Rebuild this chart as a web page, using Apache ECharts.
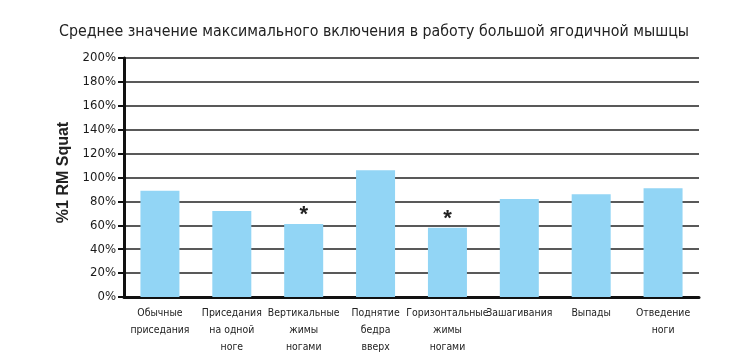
<!DOCTYPE html>
<html>
<head>
<meta charset="utf-8">
<script src="https://cdn.jsdelivr.net/npm/echarts@6/dist/echarts.min.js"></script>
<style>html,body{margin:0;padding:0;background:#fff}#c{width:748px;height:364px}</style>
</head>
<body>
<div id="c"></div>
<script>
const titleText = 'Среднее значение максимального включения в работу большой ягодичной мышцы';
const yAxisName = '%1 RM Squat';
const categories = [
  'Обычные\nприседания',
  'Приседания\nна одной\nноге',
  'Вертикальные\nжимы\nногами',
  'Поднятие\nбедра\nвверх',
  'Горизонтальные\nжимы\nногами',
  'Зашагивания',
  'Выпады',
  'Отведение\nноги'
];
const values = [89, 72, 61, 106, 58, 82, 86, 91];
const significant = [false, false, true, false, true, false, false, false];
const yTicks = [0, 20, 40, 60, 80, 100, 120, 140, 160, 180, 200];

const FONT = '"DejaVu Sans Condensed", "Liberation Sans Narrow", sans-serif';
const chart = echarts.init(document.getElementById('c'));
chart.setOption({
  animation: false,
  title: {
    text: titleText, left: 'center', top: 19,
    textStyle: {fontFamily: FONT, fontSize: 15.8, fontWeight: 'normal', color: '#222'}
  },
  grid: {left: 124, right: 49, top: 58, bottom: 67},
  xAxis: {
    type: 'category', data: categories,
    axisLine: {lineStyle: {color: '#111', width: 3}},
    axisTick: {show: false},
    axisLabel: {fontFamily: FONT, fontSize: 10.4, color: '#222', lineHeight: 17, margin: 8, interval: 0}
  },
  yAxis: {
    type: 'value', min: yTicks[0], max: yTicks[yTicks.length - 1], interval: 20,
    name: yAxisName, nameLocation: 'middle', nameGap: 46, nameRotate: 90,
    nameTextStyle: {fontFamily: 'Liberation Sans, Arial, sans-serif', fontSize: 16, fontWeight: 'bold', color: '#222', padding: [0, 0, 0, 10]},
    axisLine: {show: true, lineStyle: {color: '#111', width: 3}},
    axisTick: {show: true, length: 6, lineStyle: {color: '#111', width: 2}},
    axisLabel: {fontFamily: FONT, fontSize: 13, color: '#1a1a1a', margin: 8, formatter: '{value}%'},
    splitLine: {lineStyle: {color: '#222', width: 1.5}}
  },
  series: [{
    type: 'bar', barWidth: 39,
    itemStyle: {color: '#92d5f5'},
    data: values.map((v, i) => ({
      value: v,
      label: {show: significant[i], position: 'top', formatter: '*', distance: -2,
        fontFamily: 'Liberation Sans, Arial, sans-serif', fontSize: 22, fontWeight: 'bold', color: '#222'}
    }))
  }]
});
</script>
</body>
</html>
